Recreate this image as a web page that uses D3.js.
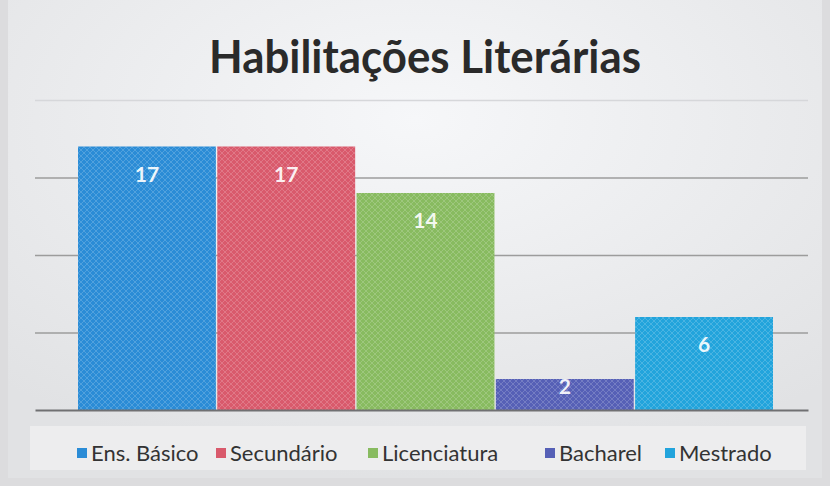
<!DOCTYPE html>
<html>
<head>
<meta charset="utf-8">
<script src="https://cdn.jsdelivr.net/npm/d3@7"></script>
<style>
  html, body { margin: 0; padding: 0; background: #dcdcde; }
  svg { display: block; }
</style>
</head>
<body>
<svg id="chart"></svg>
<script>
// chart data
const categories = ['Ens. Básico', 'Secundário', 'Licenciatura', 'Bacharel', 'Mestrado'];
const values = [17, 17, 14, 2, 6];
const colors = ['#2b8cd6', '#d95a6c', '#88bb60', '#5660b6', '#22a4dc'];
const yTicks = [0, 5, 10, 15, 20];
const title = 'Habilitações Literárias';

const width = 830, height = 486;
const margin = { left: 35, right: 22, top: 100, bottom: 76 };

let svg = d3.select('#chart')
    .attr('width', width)
    .attr('height', height);

let defs = svg.append('defs');
let bg = defs.append('radialGradient')
    .attr('id', 'bg')
    .attr('cx', '50%').attr('cy', '25%').attr('r', '75%');
bg.append('stop').attr('offset', '0%').attr('stop-color', '#f6f7f9');
bg.append('stop').attr('offset', '100%').attr('stop-color', '#e1e2e4');

// faint dotted texture seen in the scan
let tex = defs.append('pattern')
    .attr('id', 'tex')
    .attr('width', 6).attr('height', 6)
    .attr('patternUnits', 'userSpaceOnUse');
tex.append('path')
    .attr('d', 'M0 3 L3 0 L6 3 L3 6 Z')
    .attr('fill', 'none')
    .attr('stroke', '#ffffff')
    .attr('stroke-opacity', 0.18)
    .attr('stroke-width', 1);

svg.append('rect')
    .attr('x', 8).attr('y', 0)
    .attr('width', width - 16).attr('height', height - 8)
    .attr('fill', 'url(#bg)');

svg.append('text')
    .attr('x', 425)
    .attr('y', 73)
    .attr('text-anchor', 'middle')
    .attr('font-family', 'Lato, "Open Sans", sans-serif')
    .attr('font-weight', 'bold')
    .attr('font-size', 45)
    .attr('textLength', 432)
    .attr('lengthAdjust', 'spacingAndGlyphs')
    .attr('fill', '#2a2a2a')
    .text(title);

let yScale = d3.scaleLinear()
    .domain([0, 20])
    .range([height - margin.bottom, margin.top]);

let xScale = d3.scaleBand()
    .domain(categories)
    .range([78, 773])
    .paddingInner(0.01);

// gridlines
let grid = svg.append('g')
    .attr('transform', `translate(${width - margin.right}, 0)`)
    .call(d3.axisRight(yScale)
        .tickValues(yTicks.slice(1))
        .tickSize(-(width - margin.left - margin.right))
        .tickFormat(''));
grid.select('.domain').remove();
grid.selectAll('.tick line')
    .attr('stroke', d => d === 20 ? '#d6d7da' : '#9c9c9c')
    .attr('stroke-width', 1.5);

// bars
let bars = svg.append('g');
bars.selectAll('rect.bar')
    .data(values)
    .join('rect')
    .attr('class', 'bar')
    .attr('x', (d, i) => xScale(categories[i]))
    .attr('y', d => yScale(d))
    .attr('width', xScale.bandwidth())
    .attr('height', d => yScale(0) - yScale(d))
    .attr('fill', (d, i) => colors[i]);
bars.selectAll('rect.tex')
    .data(values)
    .join('rect')
    .attr('class', 'tex')
    .attr('x', (d, i) => xScale(categories[i]))
    .attr('y', d => yScale(d))
    .attr('width', xScale.bandwidth())
    .attr('height', d => yScale(0) - yScale(d))
    .attr('fill', 'url(#tex)');

// value labels
bars.selectAll('text')
    .data(values)
    .join('text')
    .attr('x', (d, i) => xScale(categories[i]) + xScale.bandwidth() / 2)
    .attr('y', d => {
        let top = yScale(d), h = yScale(0) - top;
        return h > 45 ? top + 35 : top + 15;
    })
    .attr('text-anchor', 'middle')
    .attr('font-family', 'Lato, "Open Sans", sans-serif')
    .attr('font-weight', 'bold')
    .attr('font-size', 21)
    .attr('fill', '#ffffff')
    .attr('fill-opacity', 0.92)
    .text(d => d);

// baseline
let xAxis = d3.axisBottom(d3.scaleLinear().range([margin.left, width - margin.right]))
    .ticks(0)
    .tickSizeOuter(0);
svg.append('g')
    .attr('transform', `translate(0, ${yScale(0)})`)
    .call(xAxis)
    .select('.domain')
    .attr('stroke', '#707072')
    .attr('stroke-width', 2);

// legend
svg.append('rect')
    .attr('x', 30).attr('y', 426)
    .attr('width', 776).attr('height', 44)
    .attr('fill', '#ededee');

const legendX = [77, 216, 368, 545, 665];
let legend = svg.append('g');
let items = legend.selectAll('g')
    .data(categories)
    .join('g')
    .attr('transform', (d, i) => `translate(${legendX[i]}, 461)`);
items.append('rect')
    .attr('x', 0).attr('y', -13)
    .attr('width', 10).attr('height', 10)
    .attr('fill', (d, i) => colors[i]);
items.append('text')
    .attr('x', 14)
    .attr('y', 0)
    .attr('font-family', 'Lato, "Open Sans", sans-serif')
    .attr('font-size', 22)
    .attr('fill', '#333333')
    .text(d => d);
</script>
</body>
</html>
